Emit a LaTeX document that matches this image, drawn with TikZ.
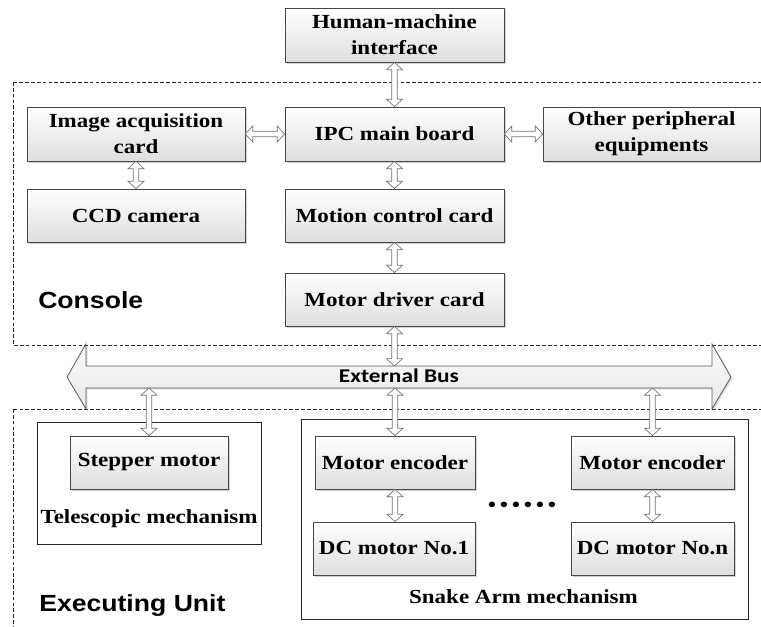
\documentclass[tikz,border=0pt]{standalone}
\usepackage{fontspec}
\setmainfont{Liberation Serif}[FakeStretch=1.15]
\newfontfamily\labelfont{Liberation Sans}[FakeStretch=1.14]
\newfontfamily\busfont{Carlito}[FakeStretch=1.2]
\usetikzlibrary{calc,shadows}

% hollow block-arrow geometry
\def\ahw{6pt}   % head half width
\def\asw{2.1pt} % shaft half width
\def\ahl{5.5pt} % head length

% vertical hollow double arrow: first argument upper end, second lower end
\newcommand\hollowv[2]{%
  \draw[hollow] let \p1=(#1), \p2=(#2) in
    (\x1,\y1) -- (\x1+\ahw,\y1-\ahl) -- (\x1+\asw,\y1-\ahl) -- (\x1+\asw,\y2+\ahl)
    -- (\x1+\ahw,\y2+\ahl) -- (\x1,\y2) -- (\x1-\ahw,\y2+\ahl) -- (\x1-\asw,\y2+\ahl)
    -- (\x1-\asw,\y1-\ahl) -- (\x1-\ahw,\y1-\ahl) -- cycle;}
% horizontal hollow double arrow: first argument left end, second right end
\newcommand\hollowh[2]{%
  \draw[hollow] let \p1=(#1), \p2=(#2) in
    (\x1,\y1) -- (\x1+\ahl,\y1+\ahw) -- (\x1+\ahl,\y1+\asw) -- (\x2-\ahl,\y1+\asw)
    -- (\x2-\ahl,\y1+\ahw) -- (\x2,\y1) -- (\x2-\ahl,\y1-\ahw) -- (\x2-\ahl,\y1-\asw)
    -- (\x1+\ahl,\y1-\asw) -- (\x1+\ahl,\y1-\ahw) -- cycle;}
% one dot of the ellipsis row
\newcommand\rowdot{\makebox[9pt]{\textbullet}}

\tikzset{
  box/.style={draw=black!72, line width=0.6pt, top color=white, bottom color=black!13,
    drop shadow={shadow xshift=1.4pt, shadow yshift=-1.4pt, opacity=0.4, fill=black!45},
    font=\bfseries\fontsize{15}{19.5}\selectfont, align=center, inner sep=0pt},
  frame/.style={draw=black!85, line width=0.6pt, fill=white, inner sep=0pt},
  region/.style={draw=black!85, line width=0.55pt, dash pattern=on 2.8pt off 1.6pt},
  hollow/.style={draw=black!55, line width=0.5pt, fill=white, line join=miter},
  bus/.style={draw=black!65, line width=0.6pt, top color=black!2, bottom color=black!9,
    drop shadow={shadow xshift=1.2pt, shadow yshift=-1.2pt, opacity=0.3, fill=black!40}},
  caption/.style={font=\bfseries\fontsize{15}{19.5}\selectfont, inner sep=0pt},
  zone/.style={font=\labelfont\bfseries\fontsize{17.5}{20}\selectfont, inner sep=0pt},
}

\begin{document}
\begin{tikzpicture}[x=0.75pt, y=-0.75pt]
\fill[white] (0,0) rectangle (761,627);
\useasboundingbox (0,0) rectangle (761,627);

% dashed regions
\draw[region] (13,82) rectangle (767,345);
\draw[region] (13,409) rectangle (767,634);

% console
\node[box, minimum width=164.25pt, minimum height=40.5pt] (hmi) at (394.5,35) {Human-machine\\interface};
\node[box, minimum width=163.5pt, minimum height=40.5pt] (img) at (136,134) {Image acquisition\\card};
\node[box, minimum width=164.25pt, minimum height=40.5pt] (ipc) at (394.5,134) {IPC main board};
\node[box, minimum width=162.75pt, minimum height=40.5pt] (oth) at (651.5,134) {Other peripheral\\equipments};
\node[box, minimum width=163.5pt, minimum height=39.75pt] (ccd) at (136,215.5) {CCD camera};
\node[box, minimum width=164.25pt, minimum height=39.75pt] (mcc) at (394.5,215.5) {Motion control card};
\node[box, minimum width=164.25pt, minimum height=39.75pt] (mdc) at (394.5,299.5) {Motor driver card};
\node[zone, anchor=base west] (console) at (38,309) {Console};

% external bus
\draw[bus] (67,377) -- (86,344) -- (86,366) -- (712,366) -- (712,344) -- (731,377)
  -- (712,409) -- (712,388) -- (86,388) -- (86,409) -- cycle;
\node[font=\busfont\bfseries\fontsize{14.6}{16}\selectfont, inner sep=0pt, anchor=base]
  (busname) at (399,383) {External Bus};
\coordinate (busT) at (394.5,366);
\coordinate (busS) at (149,388);
\coordinate (busA) at (395,388);
\coordinate (busN) at (652.5,388);

% executing unit
\node[frame, minimum width=168pt, minimum height=91.5pt] (tel) at (149,483) {};
\node[frame, minimum width=335.25pt, minimum height=150pt] (snake) at (524.5,519) {};
\node[box, minimum width=118.5pt, minimum height=39.75pt] (stp) at (149,462.5) {Stepper motor};
\node[caption, anchor=base] (telname) at (149,523) {Telescopic mechanism};
\node[box, minimum width=120pt, minimum height=39.75pt] (enc1) at (395,462.5) {Motor encoder};
\node[box, minimum width=122.25pt, minimum height=39.75pt] (enc2) at (652.5,462.5) {Motor encoder};
\node[box, minimum width=121.5pt, minimum height=39.75pt] (dc1) at (394,548.5) {DC motor No.1};
\node[box, minimum width=122.25pt, minimum height=39.75pt] (dcn) at (652.5,548.5) {DC motor No.n};
\node[inner sep=0pt, font=\LARGE] (dots) at (522,507)
  {\rowdot\rowdot\rowdot\rowdot\rowdot\rowdot};
\node[caption, anchor=base] (snakename) at (523.5,603) {Snake Arm mechanism};
\node[zone, anchor=base west] (exec) at (39,611) {Executing Unit};

% connectors
\hollowv{hmi.south}{ipc.north}
\hollowh{img.east}{ipc.west}
\hollowh{ipc.east}{oth.west}
\hollowv{img.south}{ccd.north}
\hollowv{ipc.south}{mcc.north}
\hollowv{mcc.south}{mdc.north}
\hollowv{mdc.south}{busT}
\hollowv{busS}{stp.north}
\hollowv{busA}{enc1.north}
\hollowv{busN}{enc2.north}
\hollowv{enc1.south}{enc1.south |- dc1.north}
\hollowv{enc2.south}{dcn.north}
\end{tikzpicture}
\end{document}
